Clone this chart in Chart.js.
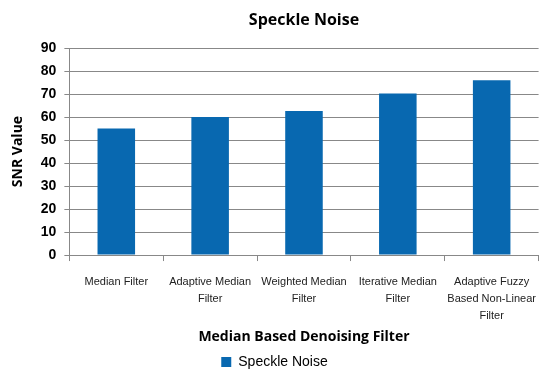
<!DOCTYPE html>
<html><head><meta charset="utf-8">
<script src="https://cdn.jsdelivr.net/npm/chart.js@4"></script>
<style>html,body{margin:0;padding:0;background:#fff}#wrap{width:549px;height:379px}</style>
</head><body><div id="wrap"><canvas id="c"></canvas></div>
<script>
const categories = [
  "Median Filter",
  ["Adaptive Median", "Filter"],
  ["Weighted Median", "Filter"],
  ["Iterative Median", "Filter"],
  ["Adaptive Fuzzy", "Based Non-Linear", "Filter"]
];
const speckleNoise = [55, 60, 62.6, 70.2, 76];
const yTicks = [0, 10, 20, 30, 40, 50, 60, 70, 80, 90];
const chartTitle = "Speckle Noise";
const seriesName = "Speckle Noise";
const xTitle = "Median Based Denoising Filter";
const yTitle = "SNR Value";

const areaTitle = {
  id: 'areaTitle',
  afterDraw(chart) {
    const ctx = chart.ctx, a = chart.chartArea;
    ctx.save();
    ctx.font = 'bold 16px "Open Sans", "Liberation Sans", sans-serif';
    ctx.fillStyle = '#000';
    ctx.textAlign = 'center';
    ctx.textBaseline = 'middle';
    ctx.fillText(chartTitle, (a.left + a.right) / 2, 20);
    ctx.restore();
  }
};

new Chart(document.getElementById('c'), {
  type: 'bar',
  data: {
    labels: categories,
    datasets: [{
      label: seriesName,
      data: speckleNoise,
      backgroundColor: '#0868b0',
      borderWidth: 0,
      categoryPercentage: 1,
      barPercentage: 0.4
    }]
  },
  options: {
    responsive: true,
    maintainAspectRatio: false,
    animation: false,
    layout: { padding: { top: 48, right: 10, left: 10, bottom: 0 } },
    plugins: {
      title: { display: false },
      tooltip: { enabled: false },
      legend: {
        position: 'bottom',
        labels: {
          boxWidth: 10, boxHeight: 10, padding: 8,
          color: '#000',
          font: { family: '"Liberation Sans Narrow", "Liberation Sans", sans-serif', size: 14 }
        }
      }
    },
    scales: {
      x: {
        grid: { offset: true, drawOnChartArea: false, drawTicks: true, tickLength: 6, color: '#888' },
        border: { color: '#888' },
        ticks: {
          color: '#222', maxRotation: 0, autoSkip: false, padding: 12,
          font: { family: '"Liberation Sans Narrow", "Liberation Sans", sans-serif', size: 11, lineHeight: 1.55 }
        },
        title: {
          display: true, text: xTitle, color: '#000', padding: { top: -8, bottom: 2 },
          font: { family: '"Open Sans", "Liberation Sans", sans-serif', size: 14, weight: 'bold' }
        }
      },
      y: {
        min: 0, max: 90,
        afterBuildTicks(scale) { scale.ticks = yTicks.map(v => ({ value: v })); },
        grid: { color: '#888', tickLength: 5, lineWidth: 1 },
        border: { color: '#888' },
        ticks: {
          color: '#000', padding: 8,
          font: { family: '"Liberation Sans", sans-serif', size: 14, weight: 'bold' }
        },
        title: {
          display: true, text: yTitle, color: '#000', padding: { top: 0, bottom: 6 },
          font: { family: '"Open Sans", "Liberation Sans", sans-serif', size: 14, weight: 'bold' }
        }
      }
    }
  },
  plugins: [areaTitle]
});
</script></body></html>
